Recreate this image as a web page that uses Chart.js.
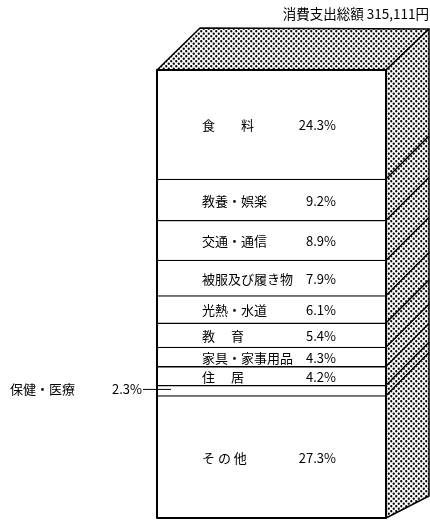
<!DOCTYPE html>
<html>
<head>
<meta charset="utf-8">
<script src="https://cdn.jsdelivr.net/npm/chart.js@4.4.0/dist/chart.umd.min.js"></script>
<style>
  html, body { margin: 0; padding: 0; background: #fff; }
  #wrap { width: 430px; height: 524px; position: relative; }
</style>
</head>
<body>
<div id="wrap"><canvas id="chart" width="430" height="524"></canvas></div>
<script>
// data, bottom to top
const categories = ['その他', '保健・医療', '住居', '家具・家事用品', '教育', '光熱・水道', '被服及び履き物', '交通・通信', '教養・娯楽', '食料'];
const shownNames = ['そ の 他', '', '住　 居', '家具・家事用品', '教　 育', '光熱・水道', '被服及び履き物', '交通・通信', '教養・娯楽', '食　　料'];
const shares = [27.3, 2.3, 4.2, 4.3, 5.4, 6.1, 7.9, 8.9, 9.2, 24.3];
const title = '消費支出総額 315,111円';

const total = shares.reduce((a, b) => a + b, 0);
const FONT = '"Noto Sans CJK JP", "Noto Sans", sans-serif';
const DEPTH = 43;

// dotted fill
function dotPattern(ctx) {
  const c = document.createElement('canvas');
  c.width = 5; c.height = 5;
  const p = c.getContext('2d');
  p.fillStyle = '#fff'; p.fillRect(0, 0, 5, 5);
  p.fillStyle = '#000';
  [[1.25, 1.25], [3.75, 3.75]].forEach(([x, y]) => {
    p.beginPath(); p.arc(x, y, 1.15, 0, Math.PI * 2); p.fill();
  });
  return ctx.createPattern(c, 'repeat');
}

const boxPlugin = {
  id: 'box3d',
  afterDatasetsDraw(chart) {
    const ctx = chart.ctx;
    const y = chart.scales.y;
    const bar = chart.getDatasetMeta(0).data[0];
    const L = bar.x - bar.width / 2, R = bar.x + bar.width / 2;
    const top = y.getPixelForValue(total), bottom = y.getPixelForValue(0);
    const d = DEPTH;
    const pat = dotPattern(ctx);
    ctx.save();
    ctx.lineWidth = 1.5;
    ctx.strokeStyle = '#000';
    ctx.lineJoin = 'round';
    // top face
    ctx.beginPath();
    ctx.moveTo(L, top); ctx.lineTo(L + d, top - d + 1); ctx.lineTo(R + d, top - d + 2); ctx.lineTo(R, top);
    ctx.closePath();
    ctx.fillStyle = pat; ctx.fill(); ctx.stroke();
    // side face
    ctx.beginPath();
    ctx.moveTo(R, top); ctx.lineTo(R + d, top - d + 2); ctx.lineTo(R + d, bottom - 22); ctx.lineTo(R, bottom);
    ctx.closePath();
    ctx.fillStyle = pat; ctx.fill(); ctx.stroke();
    // boundary lines on the side
    ctx.lineWidth = 1.4;
    let cum = 0;
    for (let i = 0; i < shares.length - 1; i++) {
      cum += shares[i];
      const py = y.getPixelForValue(cum);
      ctx.beginPath(); ctx.moveTo(R, py); ctx.lineTo(R + d, py - d); ctx.stroke();
    }
    // front outline
    ctx.lineWidth = 2;
    ctx.strokeRect(L, top, R - L, bottom - top);

    // labels
    ctx.fillStyle = '#000';
    ctx.font = '13px ' + FONT;
    ctx.textBaseline = 'middle';
    chart.data.datasets.forEach((ds, i) => {
      const el = chart.getDatasetMeta(i).data[0];
      const cy = (el.y + el.base) / 2 + 1;
      if (!shownNames[i]) return;
      ctx.textAlign = 'left';
      ctx.fillText(shownNames[i], 202, cy);
      ctx.textAlign = 'right';
      ctx.fillText(shares[i].toFixed(1) + '%', 336, cy);
    });
    // outside label for small slice
    const hm = chart.getDatasetMeta(1).data[0];
    const hy = (hm.y + hm.base) / 2 - 1;
    ctx.textAlign = 'left';
    ctx.fillText(categories[1], 10, hy);
    ctx.textAlign = 'right';
    ctx.fillText(shares[1].toFixed(1) + '%', 142, hy);
    ctx.lineWidth = 1;
    ctx.beginPath(); ctx.moveTo(143, hy); ctx.lineTo(171, hy); ctx.stroke();
    // title
    ctx.font = '13.5px ' + FONT;
    ctx.textAlign = 'right';
    ctx.fillText(title, 429, 14);
    ctx.restore();
  }
};

new Chart(document.getElementById('chart'), {
  type: 'bar',
  data: {
    labels: [''],
    datasets: categories.map((c, i) => ({
      label: c,
      data: [shares[i]],
      backgroundColor: '#fff',
      borderColor: '#000',
      borderWidth: { top: 1.3, bottom: 0, left: 0, right: 0 },
      borderSkipped: false,
      categoryPercentage: 1,
      barPercentage: 1
    }))
  },
  options: {
    responsive: false,
    animation: false,
    layout: { padding: { left: 157, right: 44, top: 70, bottom: 6 } },
    plugins: { legend: { display: false }, tooltip: { enabled: false } },
    scales: {
      x: { stacked: true, display: false },
      y: { stacked: true, display: false, min: 0, max: total }
    }
  },
  plugins: [boxPlugin]
});
</script>
</body>
</html>
